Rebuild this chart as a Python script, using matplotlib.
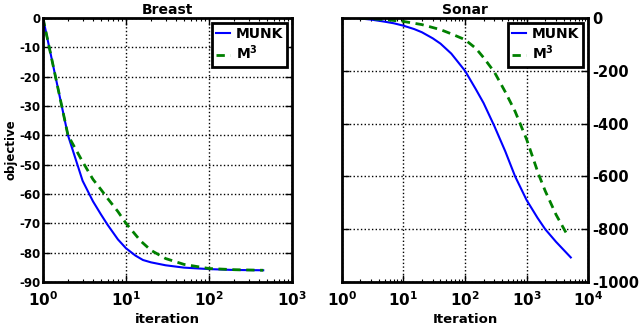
import matplotlib
matplotlib.use("Agg")
import matplotlib.pyplot as plt
from matplotlib.ticker import LogLocator, MultipleLocator

plt.rcParams['font.family'] = ['DejaVu Sans']
plt.rcParams['font.weight'] = 'bold'
plt.rcParams['mathtext.default'] = 'bf'
plt.rcParams['axes.unicode_minus'] = False

# Breast data
breast_iter_munk = [1, 2, 3, 4, 5, 6, 8, 10, 13, 16, 20, 30, 50, 100, 200, 450]
breast_munk = [0, -40, -55.5, -62.5, -67, -70.5, -75.5, -78.5, -81, -82.5, -83.3, -84.3, -85.1, -85.6, -85.9, -86]
breast_iter_m3 = [1, 2, 3, 4, 5, 6, 8, 10, 15, 20, 30, 50, 100, 200, 450]
breast_m3 = [0, -40, -49, -55, -58.5, -61.5, -66, -70, -76, -79.2, -82, -84, -85.4, -85.8, -86]

# Sonar data
sonar_iter_munk = [2, 3, 5, 7, 10, 15, 20, 30, 40, 60, 100, 150, 200, 300, 450, 650, 1000, 1500, 2000, 3000, 5200]
sonar_munk = [-2, -6, -14, -20, -29, -42, -54, -77, -97, -135, -200, -270, -322, -410, -505, -600, -690, -757, -800, -848, -907]
sonar_iter_m3 = [2, 3, 5, 10, 20, 40, 60, 100, 150, 200, 300, 450, 650, 1000, 1550, 2000, 3000, 4670]
sonar_m3 = [-1, -3, -6, -13, -25, -44, -60, -82, -115, -150, -205, -280, -354, -460, -590, -655, -745, -826]

series_labels = ['MUNK', 'M$^3$']

fig = plt.figure(figsize=(6.4, 3.3), dpi=100)
ax1 = fig.add_axes([43/640, 48/330, 249/640, 264/330])
ax2 = fig.add_axes([341.7/640, 48/330, 246.6/640, 264/330])

def style(ax):
    ax.set_xscale('log')
    for s in ax.spines.values():
        s.set_linewidth(2.0)
    ax.grid(True, which='major', color='black', linestyle=':', linewidth=1.0)
    ax.tick_params(which='both', direction='in', top=True, bottom=True, left=True, right=True)
    ax.tick_params(which='major', length=5, width=1)
    ax.tick_params(which='minor', length=2.5, width=0.8)
    ax.xaxis.set_major_locator(LogLocator(base=10))
    ax.xaxis.set_minor_locator(LogLocator(base=10, subs=range(2, 10)))

def make_legend(ax):
    leg = ax.legend(loc='upper right', fancybox=False, edgecolor='black', fontsize=10,
                    handlelength=1.0, handletextpad=0.4, borderpad=0.3, labelspacing=0.2,
                    borderaxespad=0.35, framealpha=1)
    leg.get_frame().set_linewidth(2.0)
    for t in leg.get_texts():
        t.set_fontweight('bold')

dash = (0, (3, 2))

# Breast
ax1.plot(breast_iter_munk, breast_munk, color='#0000ff', linewidth=1.5, label=series_labels[0])
ax1.plot(breast_iter_m3, breast_m3, color='#008000', linewidth=2.0, linestyle=dash, label=series_labels[1])
style(ax1)
ax1.set_xlim(1, 1000)
ax1.set_ylim(-90, 0)
ax1.yaxis.set_major_locator(MultipleLocator(10))
ax1.tick_params(axis='y', labelsize=8.5, pad=2)
ax1.tick_params(axis='x', labelsize=11, pad=6)
ax1.set_title('Breast', fontsize=10, fontweight='bold', pad=3)
ax1.set_xlabel('iteration', fontsize=9.5, fontweight='bold', labelpad=3)
ax1.set_ylabel('objective', fontsize=8.5, fontweight='bold', labelpad=1)
make_legend(ax1)

# Sonar
ax2.plot(sonar_iter_munk, sonar_munk, color='#0000ff', linewidth=1.5, label=series_labels[0])
ax2.plot(sonar_iter_m3, sonar_m3, color='#008000', linewidth=2.0, linestyle=dash, label=series_labels[1])
style(ax2)
ax2.set_xlim(1, 10000)
ax2.set_ylim(-1000, 0)
ax2.yaxis.set_major_locator(MultipleLocator(200))
ax2.tick_params(axis='y', labelleft=False, labelright=True, labelsize=10.5, pad=3)
ax2.tick_params(axis='x', labelsize=11, pad=6)
ax2.set_title('Sonar', fontsize=10, fontweight='bold', pad=3)
ax2.set_xlabel('Iteration', fontsize=9.5, fontweight='bold', labelpad=3)
make_legend(ax2)

for ax in (ax1, ax2):
    for lab in ax.get_yticklabels() + ax.get_xticklabels():
        lab.set_fontweight('bold')

fig.savefig('out.png', dpi=100)
